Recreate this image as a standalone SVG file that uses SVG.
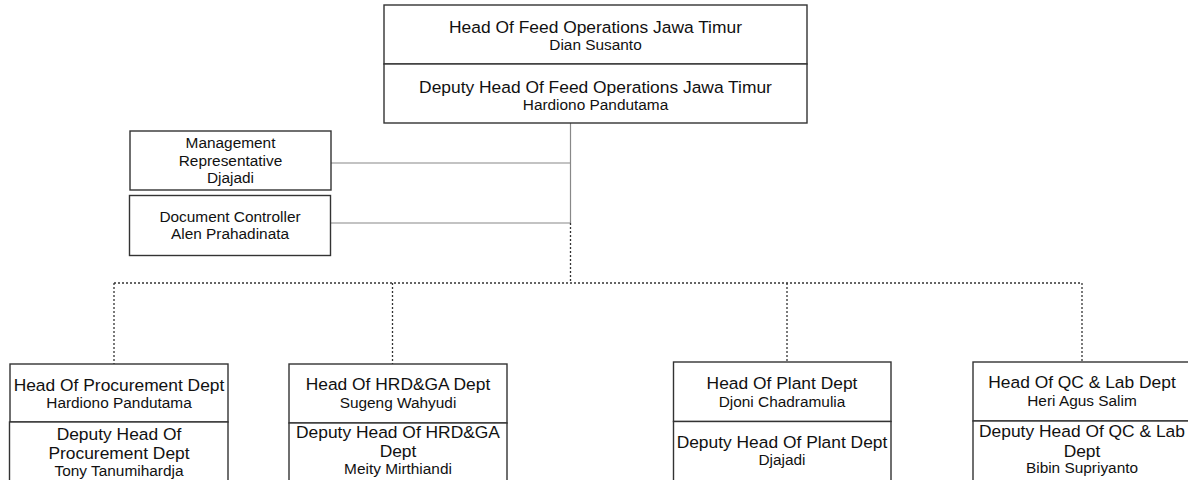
<svg xmlns="http://www.w3.org/2000/svg" width="1188" height="480" viewBox="0 0 1188 480">
<style>
.box{fill:#fff;stroke:#333;stroke-width:1.4}
.t{font-family:"Liberation Sans",Arial,sans-serif;font-size:17.4px;fill:#111;text-anchor:middle}
.n{font-family:"Liberation Sans",Arial,sans-serif;font-size:15.4px;fill:#111;text-anchor:middle}
.solid{stroke:#888;stroke-width:1.2;fill:none}
.dot{stroke:#333;stroke-width:1.3;fill:none;stroke-dasharray:2 2}
</style>
<rect width="1188" height="480" fill="#fff"/>
<g id="connectors">
<line class="solid" x1="570.5" y1="123" x2="570.5" y2="223"/>
<line class="solid" x1="331" y1="163" x2="570.5" y2="163"/>
<line class="solid" x1="331" y1="223" x2="570.5" y2="223"/>
<line class="dot" x1="570.5" y1="223" x2="570.5" y2="283"/>
<line class="dot" x1="114" y1="283" x2="1082" y2="283"/>
<line class="dot" x1="114" y1="283" x2="114" y2="364"/>
<line class="dot" x1="392.5" y1="283" x2="392.5" y2="364"/>
<line class="dot" x1="787" y1="283" x2="787" y2="362"/>
<line class="dot" x1="1082" y1="283" x2="1082" y2="362"/>
</g>
<g id="head-feed-ops">
<rect class="box" x="384" y="5" width="423" height="59"/>
<text class="t" x="595.5" y="33">Head Of Feed Operations Jawa Timur</text>
<text class="n" x="595.5" y="50">Dian Susanto</text>
</g>
<g id="deputy-feed-ops">
<rect class="box" x="384" y="64" width="423" height="59"/>
<text class="t" x="595.5" y="93">Deputy Head Of Feed Operations Jawa Timur</text>
<text class="n" x="595.5" y="110">Hardiono Pandutama</text>
</g>
<g id="management-rep">
<rect class="box" x="130" y="131" width="201" height="59"/>
<text class="n" x="230.5" y="148">Management</text>
<text class="n" x="230.5" y="166">Representative</text>
<text class="n" x="230.5" y="183">Djajadi</text>
</g>
<g id="doc-controller">
<rect class="box" x="129.5" y="195.5" width="201" height="60"/>
<text class="n" x="230" y="222">Document Controller</text>
<text class="n" x="230" y="239">Alen Prahadinata</text>
</g>
<g id="head-procurement">
<rect class="box" x="10" y="364" width="218" height="58"/>
<text class="t" x="119" y="391">Head Of Procurement Dept</text>
<text class="n" x="119" y="408">Hardiono Pandutama</text>
</g>
<g id="deputy-procurement">
<rect class="box" x="9.5" y="422" width="218.5" height="70"/>
<text class="t" x="119" y="440">Deputy Head Of</text>
<text class="t" x="119" y="459">Procurement Dept</text>
<text class="n" x="119" y="476">Tony Tanumihardja</text>
</g>
<g id="head-hrdga">
<rect class="box" x="289" y="364" width="218" height="59"/>
<text class="t" x="398" y="390">Head Of HRD&amp;GA Dept</text>
<text class="n" x="398" y="408">Sugeng Wahyudi</text>
</g>
<g id="deputy-hrdga">
<rect class="box" x="289" y="423" width="218" height="70"/>
<text class="t" x="398" y="438">Deputy Head Of HRD&amp;GA</text>
<text class="t" x="398" y="457">Dept</text>
<text class="n" x="398" y="474">Meity Mirthiandi</text>
</g>
<g id="head-plant">
<rect class="box" x="673.5" y="362" width="217.5" height="59.5"/>
<text class="t" x="782" y="389">Head Of Plant Dept</text>
<text class="n" x="782" y="407">Djoni Chadramulia</text>
</g>
<g id="deputy-plant">
<rect class="box" x="673.5" y="421.5" width="217.5" height="70"/>
<text class="t" x="782" y="448">Deputy Head Of Plant Dept</text>
<text class="n" x="782" y="465">Djajadi</text>
</g>
<g id="head-qc">
<rect class="box" x="973" y="362" width="218" height="59"/>
<text class="t" x="1082" y="388">Head Of QC &amp; Lab Dept</text>
<text class="n" x="1082" y="406">Heri Agus Salim</text>
</g>
<g id="deputy-qc">
<rect class="box" x="973" y="421" width="218" height="70"/>
<text class="t" x="1082" y="437">Deputy Head Of QC &amp; Lab</text>
<text class="t" x="1082" y="457">Dept</text>
<text class="n" x="1082" y="473">Bibin Supriyanto</text>
</g>
</svg>
